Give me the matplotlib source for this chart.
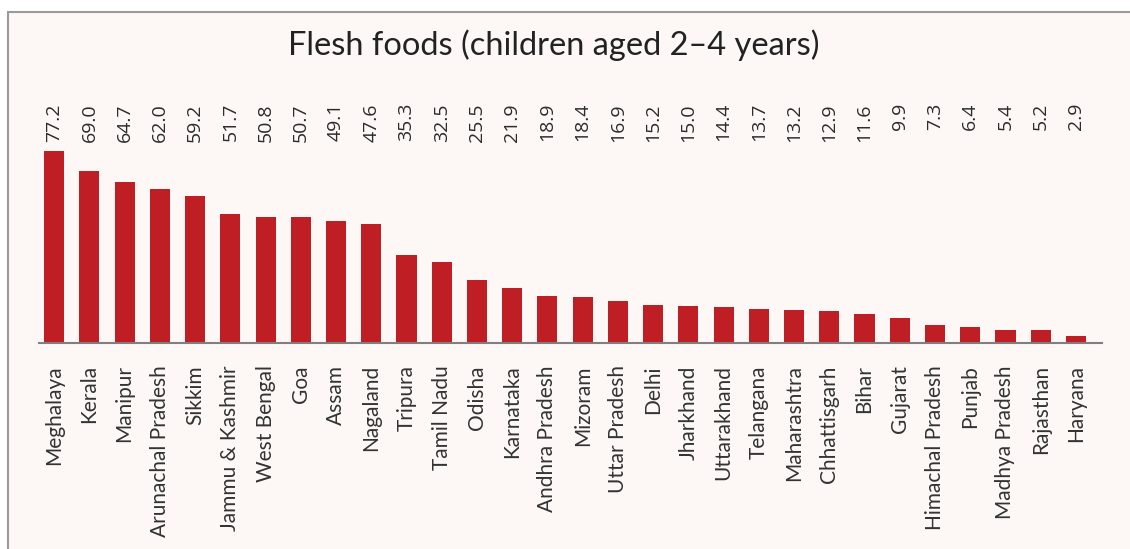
import matplotlib
matplotlib.use("Agg")
import matplotlib.pyplot as plt
from matplotlib.patches import Rectangle
from matplotlib.transforms import blended_transform_factory

states = ["Meghalaya", "Kerala", "Manipur", "Arunachal Pradesh", "Sikkim",
          "Jammu & Kashmir", "West Bengal", "Goa", "Assam", "Nagaland",
          "Tripura", "Tamil Nadu", "Odisha", "Karnataka", "Andhra Pradesh",
          "Mizoram", "Uttar Pradesh", "Delhi", "Jharkhand", "Uttarakhand",
          "Telangana", "Maharashtra", "Chhattisgarh", "Bihar", "Gujarat",
          "Himachal Pradesh", "Punjab", "Madhya Pradesh", "Rajasthan", "Haryana"]
values = [77.2, 69.0, 64.7, 62.0, 59.2, 51.7, 50.8, 50.7, 49.1, 47.6,
          35.3, 32.5, 25.5, 21.9, 18.9, 18.4, 16.9, 15.2, 15.0, 14.4,
          13.7, 13.2, 12.9, 11.6, 9.9, 7.3, 6.4, 5.4, 5.2, 2.9]
value_labels = [f"{v:.1f}" for v in values]
title = "Flesh foods (children aged 2\u20134 years)"

W, H = 1130, 549
fig = plt.figure(figsize=(W / 100, H / 100), dpi=100)
fig.patch.set_facecolor("white")

# framed panel background
fig.patches.append(Rectangle((8 / W, -0.1), 1.2, (H - 12) / H + 0.1,
                             transform=fig.transFigure, facecolor="#FDF8F5",
                             edgecolor="#9a9a9a", linewidth=1.5, zorder=-10))

ax_left, ax_right = 39, 1102
ax_bottom_px, ax_top_px = 343, 94
ax = fig.add_axes([ax_left / W, (H - ax_bottom_px) / H,
                   (ax_right - ax_left) / W, (ax_bottom_px - ax_top_px) / H])
ax.set_facecolor("none")
ax.set_zorder(1)

x = list(range(len(states)))
ax.bar(x, values, width=0.57, color="#BE1E24", zorder=2)
ax.set_xlim(-0.43, len(states) - 0.26)
ax.set_ylim(0, 100)

for s in ["top", "right", "left"]:
    ax.spines[s].set_visible(False)
ax.spines["bottom"].set_color("#7f7f7f")
ax.spines["bottom"].set_linewidth(1.5)
ax.set_yticks([])
ax.set_xticks(x)
ax.set_xticklabels(states, rotation=90, fontsize=15, family="Lato",
                   color="#333333", va="top", ha="center")
ax.tick_params(axis="x", length=0, pad=16)

trans = blended_transform_factory(ax.transData, fig.transFigure)
for xi, lab in zip(x, value_labels):
    ax.text(xi, (H - 103) / H, lab, transform=trans, rotation=90,
            ha="center", va="top", fontsize=14, family="Open Sans",
            color="#2b2b2b")

fig.text(554 / W, (H - 55) / H, title, ha="center", va="baseline",
         fontsize=23.5, family="Lato", color="#222222", zorder=5)

fig.savefig("out.png", dpi=100, facecolor=fig.get_facecolor())
